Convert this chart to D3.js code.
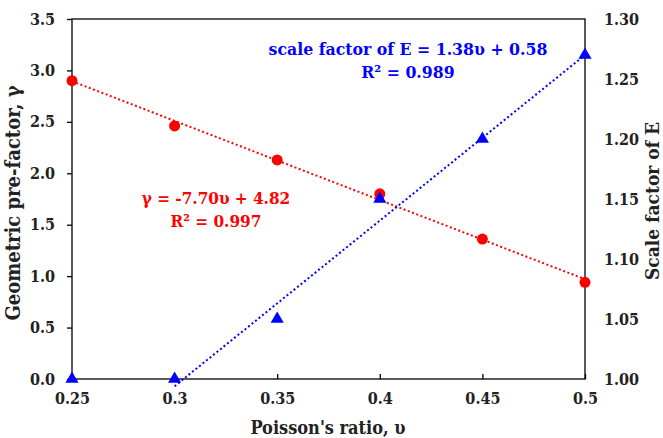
<!DOCTYPE html>
<html>
<head>
<meta charset="utf-8">
<script src="https://cdn.jsdelivr.net/npm/d3@7"></script>
<style>
  body { margin: 0; background: #fff; }
  text { font-family: "DejaVu Serif Condensed", "DejaVu Serif", serif; font-stretch: condensed; font-weight: bold; }
</style>
</head>
<body>
<script>
// Poisson's ratio
const ratios = [0.25, 0.3, 0.35, 0.4, 0.45, 0.5];
// left axis: geometric pre-factor (red circles)
const gammaVals = [2.9, 2.46, 2.13, 1.8, 1.36, 0.94];
// right axis: scale factor of E (blue triangles)
const scaleVals = [1.0, 1.0, 1.05, 1.15, 1.2, 1.27];
// trendline end points
const gammaTrend = [[0.25, 2.895], [0.5, 0.97]];
const scaleTrend = [[0.3, 0.994], [0.5, 1.27]];

const xTicks = [0.25, 0.3, 0.35, 0.4, 0.45, 0.5];
const yLeftTicks = [0, 0.5, 1, 1.5, 2, 2.5, 3, 3.5];
const yRightTicks = [1.0, 1.05, 1.1, 1.15, 1.2, 1.25, 1.3];

const width = 663, height = 438;
const margin = { top: 19, right: 78, bottom: 59, left: 72 };

const svg = d3.select("body").append("svg")
  .attr("width", width)
  .attr("height", height);

const x = d3.scaleLinear().domain([0.25, 0.5]).range([margin.left, width - margin.right]);
const yL = d3.scaleLinear().domain([0, 3.5]).range([height - margin.bottom, margin.top]);
const yR = d3.scaleLinear().domain([1.0, 1.3]).range([height - margin.bottom, margin.top]);

// frame
svg.append("rect")
  .attr("x", margin.left)
  .attr("y", margin.top)
  .attr("width", width - margin.left - margin.right)
  .attr("height", height - margin.top - margin.bottom)
  .attr("fill", "none")
  .attr("stroke", "#000")
  .attr("stroke-width", 1.3);

// x axis, ticks inward
const xAxis = svg.append("g")
  .attr("transform", `translate(0,${height - margin.bottom})`)
  .call(d3.axisBottom(x).tickValues(xTicks).tickSize(-5).tickPadding(14).tickFormat(d3.format("")));

// left axis
const leftAxis = svg.append("g")
  .attr("transform", `translate(${margin.left},0)`)
  .call(d3.axisLeft(yL).tickValues(yLeftTicks).tickSize(5).tickPadding(12).tickFormat(d3.format(".1f")));

// right axis, no ticks
const rightAxis = svg.append("g")
  .attr("transform", `translate(${width - margin.right},0)`)
  .call(d3.axisRight(yR).tickValues(yRightTicks).tickSize(0).tickPadding(19).tickFormat(d3.format(".2f")));

[xAxis, leftAxis, rightAxis].forEach(a => {
  a.select(".domain").remove();
  a.selectAll("line").attr("stroke", "#000").attr("stroke-width", 1.3);
  a.selectAll("text")
    .attr("font-family", null)
    .attr("font-size", 16)
    .attr("fill", "#222");
});

// axis titles
svg.append("text")
  .attr("x", 328)
  .attr("y", 434)
  .attr("text-anchor", "middle")
  .attr("font-size", 18)
  .attr("fill", "#222")
  .text("Poisson's ratio, υ");

svg.append("text")
  .attr("transform", "translate(20,203) rotate(-90)")
  .attr("text-anchor", "middle")
  .attr("font-size", 20)
  .attr("fill", "#222")
  .text("Geometric pre-factor, γ");

svg.append("text")
  .attr("transform", "translate(659,201) rotate(-90)")
  .attr("text-anchor", "middle")
  .attr("font-size", 19)
  .attr("fill", "#222")
  .text("Scale factor of E");

// trendlines
const lineL = d3.line().x(d => x(d[0])).y(d => yL(d[1]));
const lineR = d3.line().x(d => x(d[0])).y(d => yR(d[1]));

svg.append("path")
  .attr("d", lineL(gammaTrend))
  .attr("fill", "none")
  .attr("stroke", "#ff0000")
  .attr("stroke-width", 2)
  .attr("stroke-dasharray", "2,2.5");

svg.append("path")
  .attr("d", lineR(scaleTrend))
  .attr("fill", "none")
  .attr("stroke", "#0000ff")
  .attr("stroke-width", 2)
  .attr("stroke-dasharray", "2,2.5");

// markers
svg.selectAll(".circ")
  .data(ratios)
  .enter()
  .append("circle")
  .attr("class", "circ")
  .attr("cx", d => x(d))
  .attr("cy", (d, i) => yL(gammaVals[i]))
  .attr("r", 5.5)
  .attr("fill", "#ff0000");

svg.selectAll(".tri")
  .data(ratios)
  .enter()
  .append("path")
  .attr("class", "tri")
  .attr("d", d3.symbol().type(d3.symbolTriangle).size(75))
  .attr("transform", (d, i) => `translate(${x(d)},${yR(scaleVals[i])})`)
  .attr("fill", "#0000ff");

// annotations
svg.append("text")
  .attr("x", 408)
  .attr("y", 55)
  .attr("text-anchor", "middle")
  .attr("font-size", 17.5)
  .attr("fill", "#0000ff")
  .text("scale factor of E = 1.38υ + 0.58");

svg.append("text")
  .attr("x", 408)
  .attr("y", 78)
  .attr("text-anchor", "middle")
  .attr("font-size", 17.5)
  .attr("fill", "#0000ff")
  .text("R² = 0.989");

svg.append("text")
  .attr("x", 216)
  .attr("y", 204)
  .attr("text-anchor", "middle")
  .attr("font-size", 17)
  .attr("fill", "#ff0000")
  .text("γ = -7.70υ + 4.82");

svg.append("text")
  .attr("x", 216)
  .attr("y", 227)
  .attr("text-anchor", "middle")
  .attr("font-size", 17)
  .attr("fill", "#ff0000")
  .text("R² = 0.997");
</script>
</body>
</html>
